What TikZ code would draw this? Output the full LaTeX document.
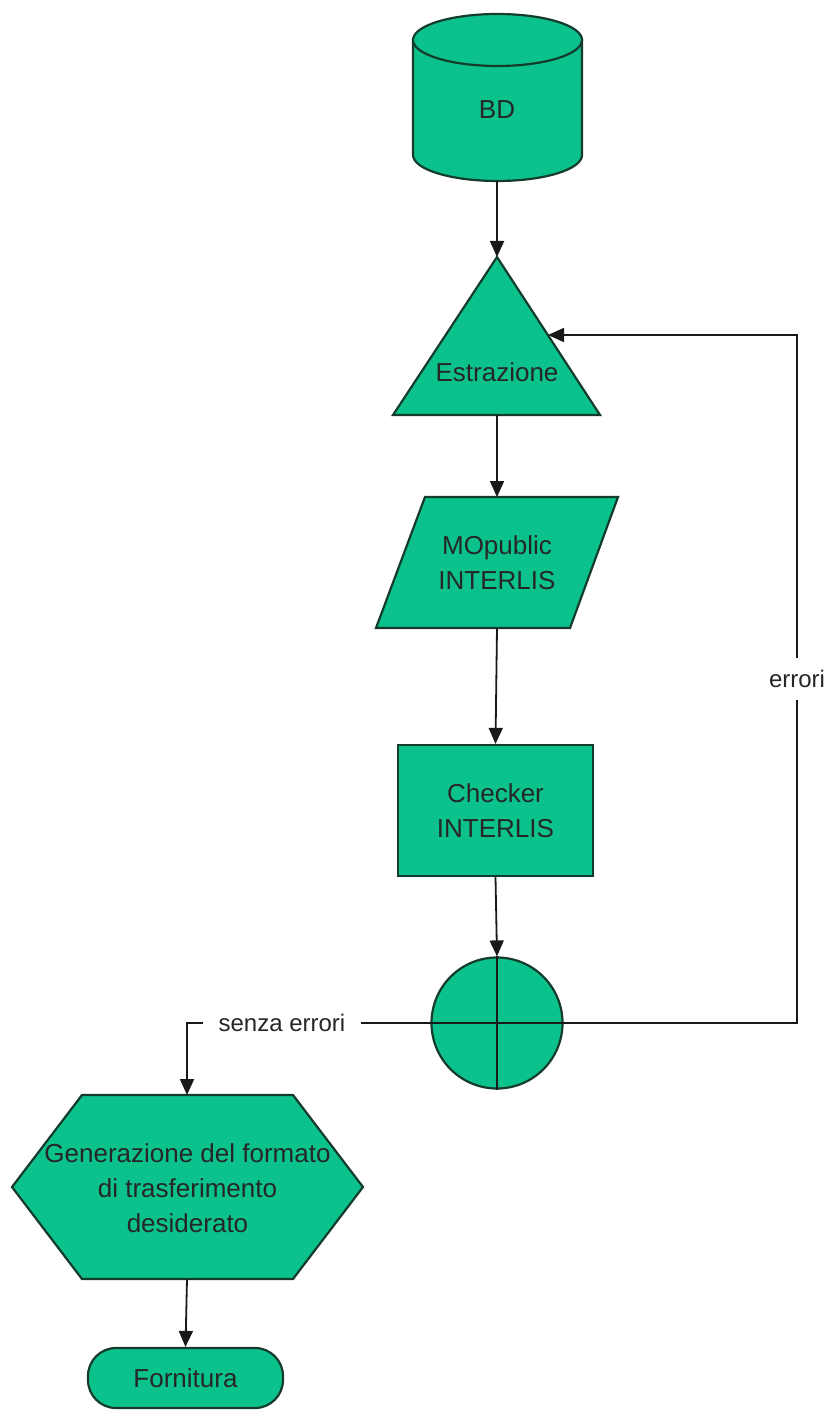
\documentclass[tikz,border=0pt]{standalone}
\usepackage{fontspec}
\setmainfont{Liberation Sans}
\usepackage{xcolor}
\usetikzlibrary{arrows.meta}
\usetikzlibrary{shapes.geometric}

\definecolor{flowgreen}{RGB}{12,194,140}
\definecolor{flowedge}{RGB}{20,60,45}

\tikzset{
  blk/.style={draw=flowedge, fill=flowgreen, line width=1.1pt},
  txt/.style={align=center, text=black!85, font=\fontsize{13pt}{17.5pt}\selectfont},
  gaplabel/.style={fill=white, text=black!85, inner xsep=8pt, inner ysep=6pt,
    font=\fontsize{12pt}{14pt}\selectfont},
  wire/.style={line width=0.9pt, draw=black!90}
}

\begin{document}
\begin{tikzpicture}[x=0.5pt, y=-0.5pt, >={Triangle[length=8pt,width=7pt]}]
    \useasboundingbox (0,0) rectangle (826,1411);

    \path [blk] (413,40) -- (413,155) arc[start angle=180, end angle=0, x radius=84.5, y radius=26] -- (582,40) -- cycle;
    \path [blk] (497.5,40) ellipse [x radius=84.5, y radius=26];
    \path (497,110) node [txt] (bd) {BD};
    \coordinate (bdbot) at (497,181);

    \path [blk] (497,257) -- (600,415) -- (393,415) -- cycle;
    \path (497,372) node [txt] (est) {Estrazione};
    \coordinate (esttop) at (497,257);
    \coordinate (estbot) at (497,415);
    \coordinate (estin) at (548,335);
    \draw [wire,->] (bdbot) -- (esttop);

    \path [blk] (425,497) -- (618,497) -- (570,628) -- (376,628) -- cycle;
    \path (497,563) node [txt] (mop) {MOpublic\\INTERLIS};
    \coordinate (moptop) at (497,497);
    \coordinate (mopbot) at (497,628);
    \draw [wire,->] (estbot) -- (moptop);

    \path (495.5,810.5) node [blk, txt, minimum width=97.5pt, minimum height=65.5pt] (chk) {Checker\\INTERLIS};
    \draw [wire,->] (mopbot) -- (chk.north);

    \path (497,1023) node [blk, circle, minimum size=65.5pt, inner sep=0pt] (sum) {};
    \draw [wire] (sum.north) -- (sum.south) (sum.west) -- (sum.east);
    \draw [wire,->] (chk.south) -- (sum.north);

    \coordinate (fblow) at (797,1023);
    \coordinate (fbup) at (797,335);
    \draw [wire,->] (sum.east) -- (fblow) -- node[midway,gaplabel] (err) {errori} (fbup) -- (estin);

    \path [blk] (82,1095) -- (293,1095) -- (363,1187) -- (293,1279) -- (82,1279) -- (12,1187) -- cycle;
    \path (187.5,1188) node [txt] (gen) {Generazione del formato\\di trasferimento\\desiderato};
    \coordinate (gentop) at (187,1095);
    \coordinate (genbot) at (187,1279);
    \coordinate (turn) at (187,1023);
    \draw [wire,->] (sum.west) -- node[pos=0.61,gaplabel] (ok) {senza errori} (turn) -- (gentop);

    \path (185.5,1378) node [blk, txt, rounded corners=14pt, minimum width=97.5pt, minimum height=30pt] (forn) {Fornitura};
    \draw [wire,->] (genbot) -- (forn.north);
\end{tikzpicture}
\end{document}
